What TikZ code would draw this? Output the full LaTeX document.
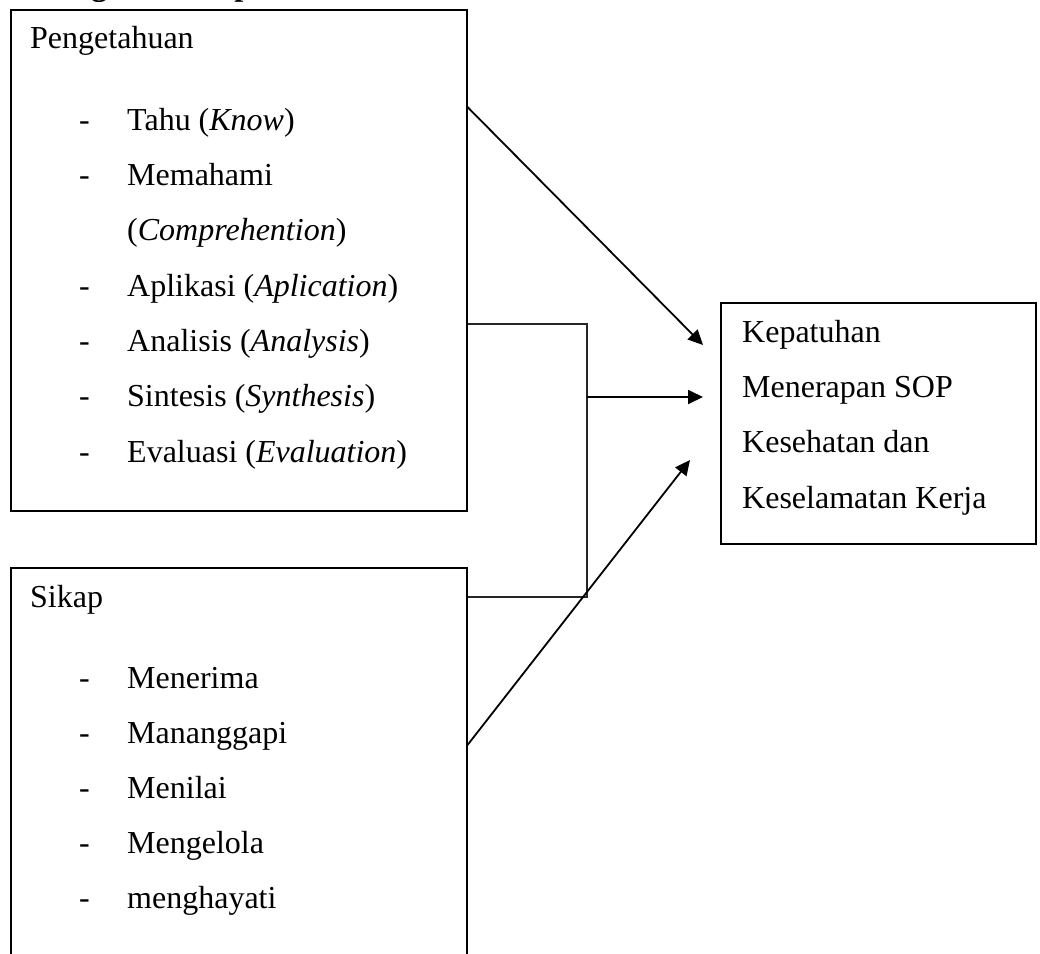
\documentclass[tikz,border=0pt]{standalone}
\usepackage{fontspec}
\setmainfont{Liberation Serif}
\usetikzlibrary{arrows.meta}
\tikzset{
  box/.style={draw, line width=1.5pt, anchor=north west, inner sep=0pt},
  txt/.style={anchor=base west, inner sep=0pt, font=\fontsize{32}{38}\selectfont},
  head/.style={anchor=base west, inner sep=0pt, font=\fontsize{32}{38}\selectfont\bfseries},
  arr/.style={line width=1.8pt, -{Triangle[length=15pt,width=14pt]}},
  brk/.style={line width=1.1pt, draw=black!85},
}
\begin{document}
\begin{tikzpicture}[x=1pt,y=-1pt]
\useasboundingbox (0,0) rectangle (1040,953);
\clip (0,0) rectangle (1040,953);
% cut-off heading
\node[head] (title) at (4,-5) {Kerangka Konsep};
% boxes
\node[box, minimum width=456pt, minimum height=501pt] (pk) at (10,9) {};
\node[box, minimum width=456pt, minimum height=400pt] (sk) at (10,567) {};
\node[box, minimum width=315pt, minimum height=241pt] (kp) at (720,302) {};
% texts Pengetahuan
\node[txt] (t0) at (30,48) {Pengetahuan};
\node[txt] (d1) at (79,130) {-};
\node[txt] (t1) at (127,130) {Tahu (\textit{Know})};
\node[txt] (d2) at (79,185.3) {-};
\node[txt] (t2) at (127,185.3) {Memahami};
\node[txt] (t2b) at (127,240.7) {(\textit{Comprehention})};
\node[txt] (d3) at (79,296) {-};
\node[txt] (t3) at (127,296) {Aplikasi (\textit{Aplication})};
\node[txt] (d4) at (79,351.3) {-};
\node[txt] (t4) at (127,351.3) {Analisis (\textit{Analysis})};
\node[txt] (d5) at (79,406.7) {-};
\node[txt] (t5) at (127,406.7) {Sintesis (\textit{Synthesis})};
\node[txt] (d6) at (79,462) {-};
\node[txt] (t6) at (127,462) {Evaluasi (\textit{Evaluation})};
% texts Sikap
\node[txt] (s0) at (30,607) {Sikap};
\node[txt] (e1) at (79,688) {-};
\node[txt] (s1) at (127,688) {Menerima};
\node[txt] (e2) at (79,743) {-};
\node[txt] (s2) at (127,743) {Mananggapi};
\node[txt] (e3) at (79,798) {-};
\node[txt] (s3) at (127,798) {Menilai};
\node[txt] (e4) at (79,853) {-};
\node[txt] (s4) at (127,853) {Mengelola};
\node[txt] (e5) at (79,908) {-};
\node[txt] (s5) at (127,908) {menghayati};
% texts right box
\node[txt] (k1) at (742,342) {Kepatuhan};
\node[txt] (k2) at (742,397.3) {Menerapan SOP};
\node[txt] (k3) at (742,452.7) {Kesehatan dan};
\node[txt] (k4) at (742,508) {Keselamatan Kerja};
% connectors
\coordinate (jn) at (587,397);
\draw[arr] ([yshift=-98pt]pk.north east) -- ([xshift=-17pt,yshift=-43pt]kp.north west);
\draw[brk] ([yshift=-315pt]pk.north east) -| (jn) |- ([yshift=-30pt]sk.north east);
\draw[arr] (jn) -- ([xshift=-17pt,yshift=-95pt]kp.north west);
\draw[arr] ([yshift=-178pt]sk.north east) -- ([xshift=-30pt,yshift=-158pt]kp.north west);
\end{tikzpicture}
\end{document}
